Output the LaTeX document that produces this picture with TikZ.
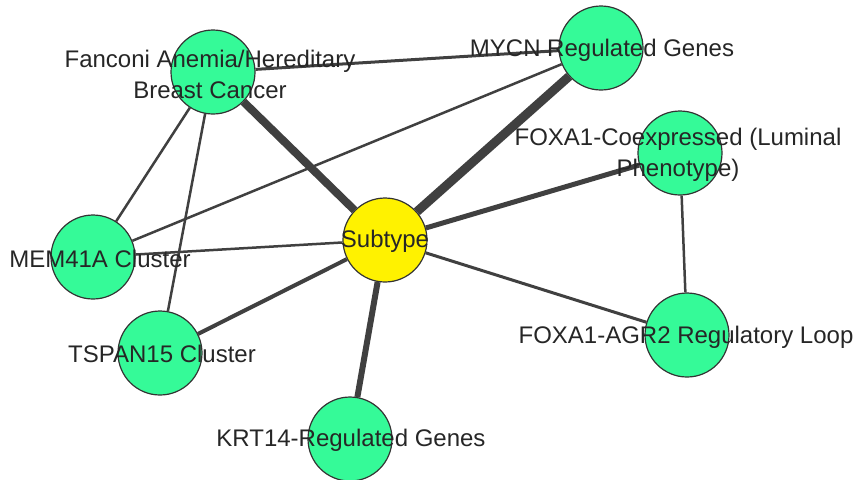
\documentclass[tikz,border=0pt]{standalone}
\usepackage{fontspec}
\setmainfont{Liberation Sans}
\usetikzlibrary{backgrounds}
\definecolor{nodegreen}{RGB}{53,250,152}
\definecolor{edgegray}{RGB}{64,64,64}
\tikzset{
  gene/.style={circle,draw=black!80,line width=0.6pt,fill=nodegreen,minimum size=42pt,inner sep=0pt},
  hub/.style={gene,fill=yellow},
  lbl/.style={font=\fontsize{12}{15.5}\selectfont,text=black!85,align=center,inner sep=0pt},
  link/.style={draw=edgegray,line width=#1},
}
\begin{document}
\begin{tikzpicture}[x=0.5pt,y=-0.5pt]
\useasboundingbox (0,0) rectangle (858,479);
% nodes
\node[gene] (fanconi) at (213,72) {};
\node[gene] (mycn) at (601,48) {};
\node[gene] (foxcoex) at (680,153) {};
\node[hub] (subtype) at (385,240) {};
\node[gene] (mem) at (93,257) {};
\node[gene] (tspan) at (160,353) {};
\node[gene] (krt) at (350,439) {};
\node[gene] (agr) at (687,335) {};
% edges
\begin{pgfonlayer}{background}
\draw[link=4pt] (fanconi) -- (subtype);
\draw[link=4.5pt] (mycn) -- (subtype);
\draw[link=2.5pt] (foxcoex) -- (subtype);
\draw[link=3pt] (krt) -- (subtype);
\draw[link=2pt] (tspan) -- (subtype);
\draw[link=1.25pt] (mem) -- (subtype);
\draw[link=1.5pt] (agr) -- (subtype);
\draw[link=1.5pt] (fanconi) -- (mycn);
\draw[link=1.25pt] (fanconi) -- (mem);
\draw[link=1.25pt] (fanconi) -- (tspan);
\draw[link=1.25pt] (mem) -- (mycn);
\draw[link=1.25pt] (foxcoex) -- (agr);
\end{pgfonlayer}
% labels
\node[lbl] (fanconi-l) at (210,74) {Fanconi Anemia/Hereditary\\Breast Cancer};
\node[lbl] (mycn-l) at (602,50) {MYCN Regulated Genes};
\node[lbl] (foxcoex-l) at (678,155) {FOXA1-Coexpressed (Luminal\\Phenotype)};
\node[lbl] (subtype-l) at (385,241) {Subtype};
\node[lbl] (mem-l) at (100,259) {MEM41A Cluster};
\node[lbl] (tspan-l) at (162,354) {TSPAN15 Cluster};
\node[lbl] (krt-l) at (351,440) {KRT14-Regulated Genes};
\node[lbl] (agr-l) at (686,337) {FOXA1-AGR2 Regulatory Loop};
\end{tikzpicture}
\end{document}
